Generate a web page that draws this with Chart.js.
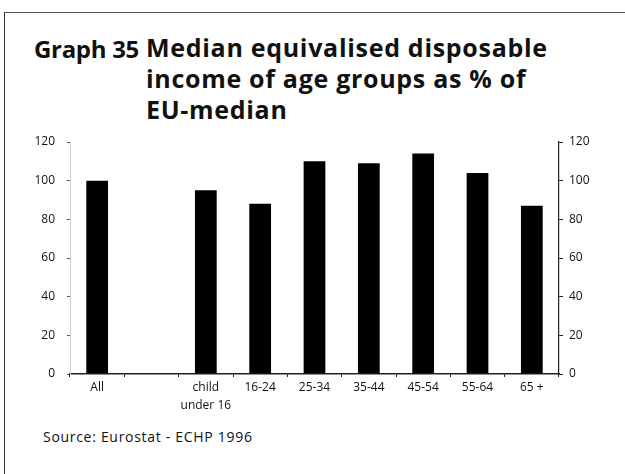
<!DOCTYPE html>
<html>
<head>
<meta charset="utf-8">
<script src="https://cdn.jsdelivr.net/npm/chart.js@4.4.1/dist/chart.umd.min.js"></script>
<style>
  html, body { margin: 0; padding: 0; background: #fff; }
  body { width: 625px; height: 474px; position: relative; overflow: hidden; font-family: "Open Sans", sans-serif; color: #111; }
  .frame { position: absolute; left: 4px; top: 12px; width: 700px; height: 500px; border-left: 1.5px solid #333; border-top: 1px solid #555; }
  .num { position: absolute; left: 34px; top: 33px; font-weight: 700; font-size: 24px; line-height: 31px; letter-spacing: -0.3px; }
  .title { position: absolute; left: 146px; top: 32px; font-weight: 700; font-size: 25px; line-height: 31px; letter-spacing: 0.7px; }
  .source { position: absolute; left: 43px; top: 427px; font-size: 14px; letter-spacing: 0.7px; }
  canvas { position: absolute; left: 0; top: 0; }
</style>
</head>
<body>
<div class="frame"></div>
<div class="num">Graph 35</div>
<div class="title">Median equivalised disposable<br>income of age groups as % of<br>EU-median</div>
<div class="source">Source: Eurostat - ECHP 1996</div>
<canvas id="chart" width="625" height="474"></canvas>
<script>
// age groups, the second slot is left empty in the original
const categories = ['All', '', ['child', 'under 16'], '16-24', '25-34', '35-44', '45-54', '55-64', '65 +'];
const medianIncome = [100, null, 95, 88, 110, 109, 114, 104, 87];
const yTicks = [0, 20, 40, 60, 80, 100, 120];

const tickFont = { family: 'Open Sans', size: 12 };

new Chart(document.getElementById('chart'), {
  type: 'bar',
  data: {
    labels: categories,
    datasets: [{
      label: 'Median income (% of EU-median)',
      data: medianIncome,
      backgroundColor: '#000',
      borderWidth: 0,
      barPercentage: 0.4,
      categoryPercentage: 1
    }]
  },
  options: {
    responsive: false,
    animation: false,
    layout: { padding: { top: 142, left: 0, right: 0, bottom: 0 } },
    plugins: {
      legend: { display: false },
      tooltip: { enabled: false }
    },
    scales: {
      x: {
        grid: { drawOnChartArea: false, drawTicks: true, tickLength: 3, color: '#222' },
        border: { color: '#222', width: 1.5 },
        ticks: { color: '#111', font: { family: 'Open Sans', size: 12, lineHeight: 1.45 }, padding: 2, maxRotation: 0, autoSkip: false },
        afterFit: function(scale) { scale.height = 100; }
      },
      y: {
        position: 'left',
        min: 0,
        max: 120,
        afterBuildTicks: function(scale) { scale.ticks = yTicks.map(v => ({ value: v })); },
        grid: { drawOnChartArea: false, drawTicks: true, tickLength: 3, color: '#555' },
        border: { color: '#ccc', width: 1 },
        ticks: { color: '#111', font: tickFont, padding: 12 },
        afterFit: function(scale) { scale.width = 70; }
      },
      y1: {
        position: 'right',
        min: 0,
        max: 120,
        afterBuildTicks: function(scale) { scale.ticks = yTicks.map(v => ({ value: v })); },
        grid: { drawOnChartArea: false, drawTicks: true, tickLength: 4, color: '#222' },
        border: { color: '#222', width: 1.2 },
        ticks: { color: '#111', font: tickFont, padding: 6 },
        afterFit: function(scale) { scale.width = 66; }
      }
    }
  }
});
</script>
</body>
</html>
